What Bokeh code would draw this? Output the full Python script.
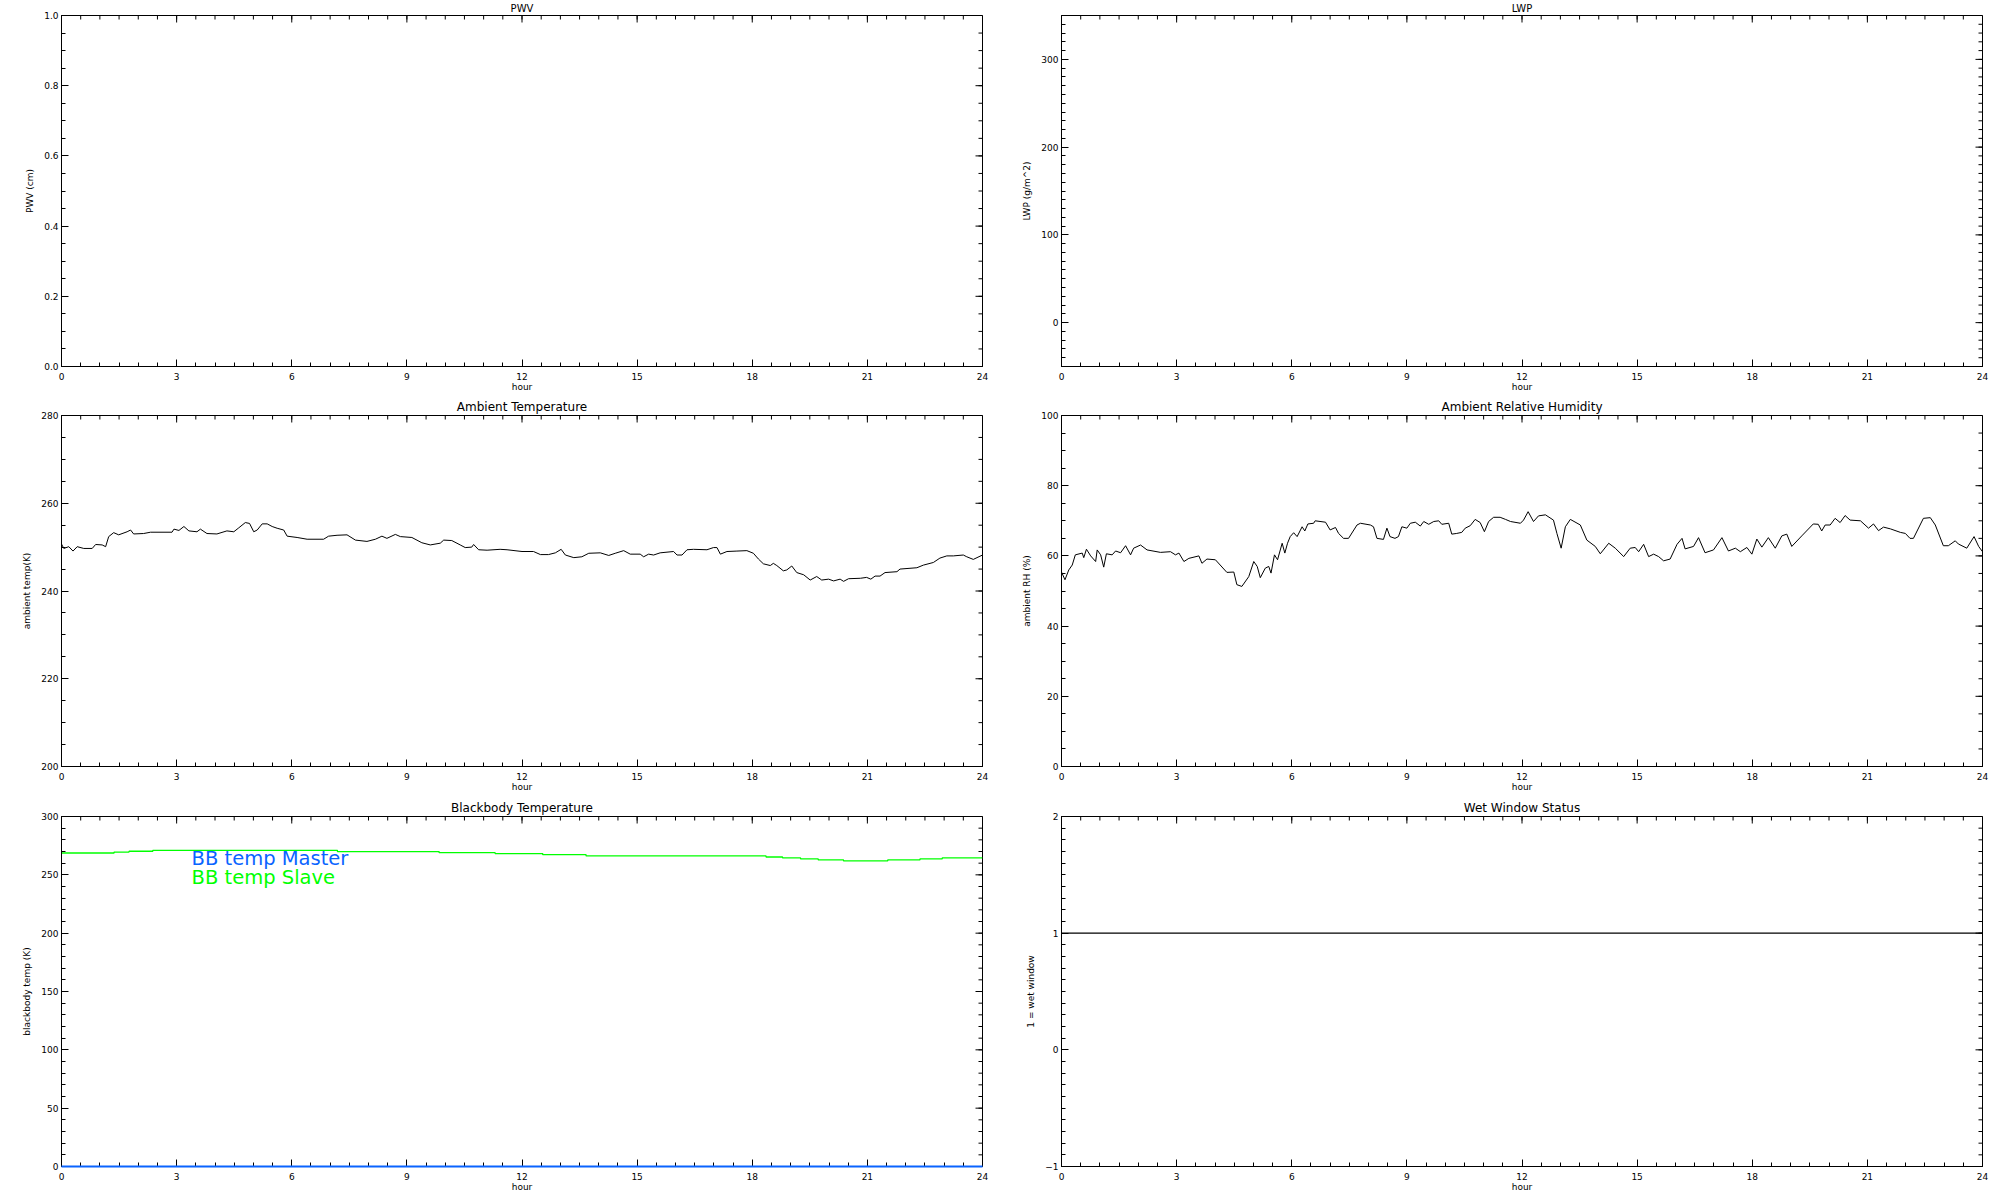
import math
from bokeh.plotting import figure
from bokeh.models import Range1d, FixedTicker, Label, NumeralTickFormatter
from bokeh.layouts import column, row
from bokeh.embed import file_html
from bokeh.resources import INLINE

# ---------------- data ----------------
hour_ticks = [0, 3, 6, 9, 12, 15, 18, 21, 24]
hour_minor = [i * 0.5 for i in range(49)]

amb_hours = [0.0, 0.06, 0.19, 0.30, 0.41, 0.58, 0.80, 0.89, 1.06, 1.15, 1.23, 1.36, 1.49, 1.71, 1.80, 1.88,
             2.14, 2.32, 2.88, 2.93, 3.06, 3.19, 3.32, 3.53, 3.62, 3.79, 4.05, 4.31, 4.49, 4.62, 4.79, 4.90,
             5.01, 5.10, 5.23, 5.36, 5.49, 5.62, 5.79, 5.88, 6.14, 6.40, 6.83, 6.96, 7.18, 7.44, 7.66, 7.96,
             8.18, 8.35, 8.48, 8.70, 8.83, 9.13, 9.39, 9.61, 9.87, 9.96, 10.17, 10.39, 10.52, 10.69, 10.74,
             10.87, 11.09, 11.43, 11.61, 12.0, 12.30, 12.48, 12.69, 12.87, 13.02, 13.13, 13.35, 13.56, 13.74,
             14.04, 14.26, 14.43, 14.65, 14.82, 15.08, 15.17, 15.30, 15.43, 15.60, 15.95, 16.04, 16.17, 16.30,
             16.47, 16.82, 16.99, 17.08, 17.17, 17.34, 17.60, 17.86, 18.03, 18.16, 18.29, 18.47, 18.55, 18.64,
             18.81, 18.90, 19.03, 19.16, 19.34, 19.51, 19.68, 19.81, 19.99, 20.12, 20.29, 20.38, 20.51, 20.82,
             20.98, 21.09, 21.20, 21.33, 21.46, 21.77, 21.85, 22.29, 22.46, 22.72, 22.89, 23.07, 23.24, 23.50,
             23.59, 23.76, 24.0]
amb_temp = [250.7, 249.7, 250.1, 249.1, 250.1, 249.7, 249.7, 250.6, 250.5, 250.1, 252.4, 253.3, 252.8, 253.5,
            253.9, 253.0, 253.1, 253.4, 253.4, 254.1, 253.8, 254.7, 253.7, 253.5, 254.1, 253.1, 253.0, 253.7,
            253.5, 254.4, 255.6, 255.4, 253.5, 253.9, 255.3, 255.3, 254.7, 254.3, 253.9, 252.5, 252.2, 251.8,
            251.8, 252.5, 252.7, 252.8, 251.6, 251.3, 251.8, 252.5, 252.0, 252.9, 252.4, 252.2, 251.0, 250.5,
            250.9, 251.6, 251.5, 250.5, 249.9, 250.0, 250.6, 249.4, 249.3, 249.5, 249.4, 249.0, 249.0, 248.3,
            248.3, 248.7, 249.5, 248.2, 247.6, 247.8, 248.6, 248.7, 248.1, 248.6, 249.2, 248.4, 248.4, 247.8,
            248.4, 248.2, 248.7, 249.0, 248.2, 248.2, 249.4, 249.5, 249.4, 249.9, 249.9, 248.4, 249.0, 249.1,
            249.2, 248.6, 247.3, 246.2, 245.8, 246.3, 245.8, 244.6, 244.8, 245.7, 244.2, 243.7, 242.5, 243.3,
            242.5, 242.7, 242.3, 242.7, 242.2, 242.8, 242.9, 243.1, 242.7, 243.4, 243.4, 244.2, 244.4, 245.0,
            245.3, 245.9, 246.5, 247.5, 248.0, 248.0, 248.2, 247.8, 247.2, 248.2]

rh_hours = [0.0, 0.09, 0.19, 0.28, 0.36, 0.54, 0.58, 0.65, 0.76, 0.89, 0.93, 1.02, 1.10, 1.17, 1.32, 1.41,
            1.54, 1.67, 1.80, 1.88, 2.06, 2.23, 2.58, 2.84, 2.97, 3.06, 3.19, 3.32, 3.58, 3.66, 3.79, 4.01,
            4.31, 4.49, 4.57, 4.70, 4.88, 5.01, 5.10, 5.18, 5.31, 5.40, 5.46, 5.55, 5.63, 5.75, 5.82, 5.89,
            5.96, 6.05, 6.14, 6.27, 6.34, 6.42, 6.57, 6.61, 6.88, 7.00, 7.14, 7.22, 7.35, 7.48, 7.70, 7.79,
            8.05, 8.13, 8.22, 8.39, 8.48, 8.56, 8.69, 8.78, 8.87, 9.00, 9.09, 9.22, 9.35, 9.44, 9.57, 9.70,
            9.83, 9.91, 10.09, 10.17, 10.30, 10.43, 10.52, 10.65, 10.78, 10.91, 11.02, 11.13, 11.26, 11.43,
            11.57, 11.70, 11.96, 12.04, 12.16, 12.30, 12.43, 12.61, 12.82, 12.91, 13.02, 13.13, 13.26, 13.52,
            13.69, 13.91, 14.04, 14.26, 14.43, 14.65, 14.82, 14.95, 15.04, 15.17, 15.30, 15.43, 15.56, 15.69,
            15.86, 16.04, 16.17, 16.25, 16.47, 16.60, 16.77, 16.99, 17.21, 17.38, 17.56, 17.69, 17.86, 17.99,
            18.12, 18.25, 18.42, 18.60, 18.77, 18.90, 19.03, 19.29, 19.59, 19.72, 19.81, 19.90, 20.03, 20.16,
            20.29, 20.42, 20.55, 20.82, 21.03, 21.16, 21.29, 21.42, 21.60, 21.86, 21.99, 22.11, 22.20, 22.46,
            22.64, 22.77, 22.98, 23.11, 23.29, 23.37, 23.59, 23.78, 23.90, 24.0]
rh_vals = [55.4, 53.2, 56.0, 57.4, 60.3, 60.8, 59.5, 61.9, 60.0, 58.4, 61.7, 60.3, 56.8, 60.6, 60.3, 61.4,
           60.9, 62.9, 60.3, 62.2, 63.1, 61.7, 61.0, 61.2, 60.3, 60.8, 58.4, 59.3, 60.0, 57.9, 59.1, 58.9,
           55.3, 55.4, 51.8, 51.3, 54.1, 58.4, 57.0, 53.8, 56.5, 57.0, 55.1, 60.3, 58.9, 63.6, 60.8, 63.6,
           65.5, 66.6, 65.5, 68.3, 67.1, 69.1, 69.3, 70.0, 69.6, 67.4, 68.1, 66.4, 65.0, 65.0, 68.8, 69.3,
           68.8, 68.3, 65.0, 64.7, 67.9, 65.5, 65.0, 65.5, 68.3, 67.9, 69.3, 69.6, 68.5, 69.8, 69.0, 69.8,
           70.0, 69.0, 69.3, 66.2, 66.4, 66.7, 67.9, 68.6, 70.4, 69.5, 66.9, 69.8, 71.0, 71.0,
           70.4, 69.8, 69.3, 70.2, 72.6, 69.8, 71.4, 71.7, 70.2, 66.4, 62.2, 68.3, 70.4, 68.8,
           64.5, 62.7, 60.6, 63.6, 62.2, 59.8, 62.2, 62.4, 61.2, 63.3, 59.8, 60.5, 59.8, 58.6,
           59.1, 63.3, 65.0, 62.0, 62.7, 65.2, 60.9, 61.7, 65.2, 61.4, 62.2, 61.2, 62.4, 60.5,
           64.8, 62.5, 65.2, 62.2, 65.7, 66.2, 62.7, 65.7, 69.1, 69.0, 67.1, 68.8, 68.8, 70.7,
           69.5, 71.5, 70.2, 70.0, 67.9, 69.1, 67.2, 68.2, 67.7, 66.7, 66.4, 65.0, 65.0, 70.7,
           70.9, 68.8, 62.9, 62.9, 64.3, 63.4, 62.2, 65.5, 62.7, 61.2]

bb_slave_hours = [0.0, 1.37, 1.76, 2.38, 7.19, 9.84, 11.30, 12.54, 13.67, 18.36, 18.79, 19.26, 19.72,
                  20.38, 21.53, 22.37, 22.95, 24.0]
bb_slave_temp = [268.7, 269.5, 270.2, 271.0, 269.9, 269.0, 268.2, 267.3, 266.2, 265.3, 264.5, 263.6,
                 262.8, 261.9, 262.8, 263.6, 264.5, 264.5]
bb_master_hours = [0.0, 24.0]
bb_master_temp = [0.0, 0.0]

wet_hours = [0.0, 24.0]
wet_status = [1, 1]

FONT = "DejaVu Sans"
BLUE = "#0a64ff"
GREEN = "#00ff00"


def panel(width, height, bl, br, bt, bb, y0, y1, y_major, y_minor, title, ylabel,
          title_size, title_standoff, title_valign, fmt=None):
    p = figure(width=width, height=height, x_range=Range1d(0, 24), y_range=Range1d(y0, y1),
               output_backend="svg", toolbar_location=None,
               min_border_left=bl, min_border_right=br, min_border_top=bt, min_border_bottom=bb)
    p.grid.grid_line_color = None
    p.outline_line_color = "black"
    p.background_fill_color = "white"
    p.border_fill_color = "white"

    p.title.text = title
    p.title.align = "center"
    p.title.vertical_align = title_valign
    p.title.text_font = FONT
    p.title.text_font_size = title_size
    p.title.text_font_style = "normal"
    p.title.text_color = "black"
    p.title.standoff = title_standoff

    xt = FixedTicker(ticks=hour_ticks, minor_ticks=hour_minor)
    yt = FixedTicker(ticks=y_major, minor_ticks=y_minor)
    for ax, t in ((p.xaxis[0], xt), (p.yaxis[0], yt)):
        ax.ticker = t
        ax.major_tick_in = 7
        ax.major_tick_out = 0
        ax.minor_tick_in = 4
        ax.minor_tick_out = 0
        ax.axis_line_color = "black"
        ax.major_tick_line_color = "black"
        ax.minor_tick_line_color = "black"
        ax.major_label_text_font = FONT
        ax.major_label_text_font_size = "9px"
        ax.major_label_text_color = "black"
        ax.axis_label_text_font = FONT
        ax.axis_label_text_font_size = "9px"
        ax.axis_label_text_font_style = "normal"
        ax.axis_label_text_color = "black"
    p.xaxis[0].major_label_standoff = 6
    p.xaxis[0].axis_label = "hour"
    p.xaxis[0].axis_label_standoff = -1
    p.yaxis[0].major_label_standoff = 3
    p.yaxis[0].axis_label = ylabel
    p.yaxis[0].axis_label_standoff = 6
    if fmt is not None:
        p.yaxis[0].formatter = fmt

    # inward ticks mirrored on the top and right frame edges (from the same tick lists)
    p.ray(x=hour_ticks, y=[y1] * len(hour_ticks), length=7, length_units="screen",
          angle=-math.pi / 2, line_color="black", line_width=1)
    p.ray(x=hour_minor, y=[y1] * len(hour_minor), length=4, length_units="screen",
          angle=-math.pi / 2, line_color="black", line_width=1)
    p.ray(x=[24] * len(y_major), y=y_major, length=7, length_units="screen",
          angle=math.pi, line_color="black", line_width=1)
    p.ray(x=[24] * len(y_minor), y=y_minor, length=4, length_units="screen",
          angle=math.pi, line_color="black", line_width=1)
    return p


LW, RW = 1002, 990
LBL, LBR, RBL, RBR = 61, 20, 59, 10
BOT = 27

pwv = panel(LW, 15 + 352 + BOT, LBL, LBR, 15, BOT, 0.0, 1.0, [0.0, 0.2, 0.4, 0.6, 0.8, 1.0],
            [i * 0.05 for i in range(21)], "PWV", "PWV (cm)", "10px", 0, "top",
            fmt=NumeralTickFormatter(format="0.0"))
lwp = panel(RW, 15 + 352 + BOT, RBL, RBR, 15, BOT, -50, 350, [0, 100, 200, 300],
            [-50 + 10 * i for i in range(41)], "LWP", "LWP (g/m^2)", "10px", 0, "top")

amb = panel(LW, 21 + 352 + BOT, LBL, LBR, 21, BOT, 200, 280, [200, 220, 240, 260, 280],
            [200 + 5 * i for i in range(17)], "Ambient Temperature", "ambient temp(K)", "12px", 3, "bottom")
amb.line(amb_hours, amb_temp, line_color="black", line_width=1)

rh = panel(RW, 21 + 352 + BOT, RBL, RBR, 21, BOT, 0, 100, [0, 20, 40, 60, 80, 100],
           [5 * i for i in range(21)], "Ambient Relative Humidity", "ambient RH (%)", "12px", 3, "bottom")
rh.line(rh_hours, rh_vals, line_color="black", line_width=1)

bb = panel(LW, 22 + 351 + BOT, LBL, LBR, 22, BOT, 0, 300, [0, 50, 100, 150, 200, 250, 300],
           [10 * i for i in range(31)], "Blackbody Temperature", "blackbody temp (K)", "12px", 3, "bottom")
bb_master = bb.line(bb_master_hours, bb_master_temp, line_color=BLUE, line_width=2)
bb_master.level = "overlay"
bb.step(bb_slave_hours, bb_slave_temp, mode="after", line_color=GREEN, line_width=1.3)
bb.add_layout(Label(x=3.39, y=264, text="BB temp Master", text_color=BLUE, text_font=FONT,
                    text_font_size="19.5px", text_baseline="alphabetic", text_align="left"))
bb.add_layout(Label(x=3.39, y=247.5, text="BB temp Slave", text_color=GREEN, text_font=FONT,
                    text_font_size="19.5px", text_baseline="alphabetic", text_align="left"))

wet = panel(RW, 22 + 351 + BOT, RBL, RBR, 22, BOT, -1, 2, [-1, 0, 1, 2],
            [-1 + 0.1 * i for i in range(31)], "Wet Window Status", "1 = wet window", "12px", 3, "bottom")
wet.line(wet_hours, wet_status, line_color="black", line_width=1.2)

layout = column(row(pwv, lwp), row(amb, rh), row(bb, wet))

open("out.html", "w").write(file_html(layout, INLINE))
